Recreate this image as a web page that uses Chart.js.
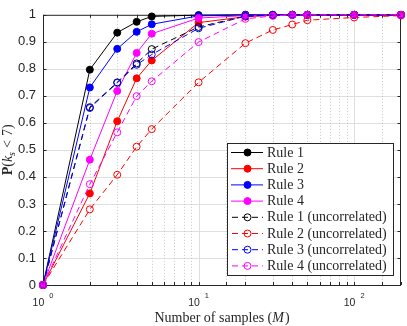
<!DOCTYPE html>
<html>
<head>
<meta charset="utf-8">
<script src="https://cdn.jsdelivr.net/npm/chart.js@4.4.1/dist/chart.umd.min.js"></script>
<style>
  html, body { margin: 0; padding: 0; background: #fff; }
</style>
</head>
<body>
<canvas id="chart" width="407" height="326"></canvas>
<script>
// number of samples M (x axis, log)
const samples = [1, 2, 3, 4, 5, 10, 20, 30, 40, 50, 100, 200];

// P(k_s < 7)
const rule1 = [0, 0.797, 0.934, 0.974, 0.994, 0.999, 1, 1, 1, 1, 1, 1];
const rule2 = [0, 0.339, 0.606, 0.765, 0.831, 0.971, 0.993, 0.998, 1, 1, 1, 1];
const rule3 = [0, 0.731, 0.874, 0.937, 0.965, 0.996, 1, 1, 1, 1, 1, 1];
const rule4 = [0, 0.464, 0.718, 0.859, 0.930, 0.988, 0.997, 1, 1, 1, 1, 1];
const rule1Unc = [0, 0.658, 0.750, 0.820, 0.873, 0.955, 0.995, 0.999, 1, 1, 1, 1];
const rule2Unc = [0, 0.280, 0.408, 0.512, 0.577, 0.750, 0.895, 0.944, 0.964, 0.980, 0.990, 0.997];
const rule3Unc = [0, 0.655, 0.748, 0.815, 0.853, 0.950, 0.995, 0.999, 1, 1, 1, 1];
const rule4Unc = [0, 0.373, 0.565, 0.699, 0.754, 0.899, 0.985, 0.996, 0.999, 1, 1, 1];

const seriesNames = [
  "Rule 1", "Rule 2", "Rule 3", "Rule 4",
  "Rule 1 (uncorrelated)", "Rule 2 (uncorrelated)",
  "Rule 3 (uncorrelated)", "Rule 4 (uncorrelated)",
];
const seriesValues = [rule1, rule2, rule3, rule4, rule1Unc, rule2Unc, rule3Unc, rule4Unc];
const seriesColors = ["#000000", "#ff0000", "#0000ff", "#ff00ff"];

const xLabelPowers = [0, 1, 2];

const AXIS = "#262626";
const SANS = "'Liberation Sans', Arial, sans-serif";
const SERIF = "'Liberation Serif', 'Times New Roman', serif";

const datasets = seriesValues.map((vals, i) => {
  const color = seriesColors[i % 4];
  const dashed = i >= 4;
  return {
    label: seriesNames[i],
    data: samples.map((m, k) => ({ x: m, y: vals[k] })),
    borderColor: color,
    backgroundColor: color,
    borderWidth: 1,
    borderDash: dashed ? [6, 4] : [],
    pointRadius: 3.5,
    pointBorderWidth: 1,
    pointBorderColor: color,
    pointBackgroundColor: dashed ? "rgba(0,0,0,0)" : color,
    tension: 0,
    clip: false,
    order: seriesValues.length - i,
  };
});

function drawMixed(ctx, parts, x, y) {
  // parts: [{text, font, dy, gap}] drawn left to right from x, baseline y
  let cx = x;
  parts.forEach((p) => {
    ctx.font = p.font;
    ctx.fillText(p.text, cx, y + (p.dy || 0));
    cx += ctx.measureText(p.text).width + (p.gap || 0);
  });
  return cx - x;
}

function mixedWidth(ctx, parts) {
  let w = 0;
  parts.forEach((p) => {
    ctx.font = p.font;
    w += ctx.measureText(p.text).width + (p.gap || 0);
  });
  return w;
}

const decor = {
  id: "decor",
  beforeDatasetsDraw(chart) {
    const { ctx, chartArea: a, scales: { x, y } } = chart;
    ctx.save();
    ctx.lineWidth = 1;

    // horizontal grid
    ctx.strokeStyle = "#dfdfdf";
    y.ticks.forEach((t) => {
      if (t.value <= 0.001 || t.value >= 0.999) return;
      const py = Math.round(y.getPixelForValue(t.value)) + 0.5;
      ctx.beginPath();
      ctx.moveTo(a.left, py);
      ctx.lineTo(a.right, py);
      ctx.stroke();
    });

    // vertical grid: solid at decades, dotted at minor ticks
    x.ticks.forEach((t) => {
      if (t.value <= 1 || t.value >= 200) return;
      const major = Math.abs(Math.log10(t.value) % 1) < 1e-9;
      const px = Math.round(x.getPixelForValue(t.value)) + 0.5;
      ctx.strokeStyle = major ? "#dfdfdf" : "#c6c6c6";
      ctx.setLineDash(major ? [] : [1, 2]);
      ctx.beginPath();
      ctx.moveTo(px, a.top);
      ctx.lineTo(px, a.bottom);
      ctx.stroke();
    });
    ctx.setLineDash([]);

    // box and inward ticks
    ctx.strokeStyle = AXIS;
    ctx.strokeRect(a.left + 0.5, a.top + 0.5, a.right - a.left - 1, a.bottom - a.top);
    ctx.beginPath();
    y.ticks.forEach((t) => {
      const py = Math.round(y.getPixelForValue(t.value)) + 0.5;
      ctx.moveTo(a.left, py); ctx.lineTo(a.left + 3.5, py);
      ctx.moveTo(a.right, py); ctx.lineTo(a.right - 3.5, py);
    });
    x.ticks.forEach((t) => {
      const px = Math.round(x.getPixelForValue(t.value)) + 0.5;
      ctx.moveTo(px, a.bottom); ctx.lineTo(px, a.bottom - 3);
      ctx.moveTo(px, a.top); ctx.lineTo(px, a.top + 3);
    });
    ctx.stroke();
    ctx.restore();
  },
  afterDraw(chart) {
    const { ctx, chartArea: a, scales: { x } } = chart;
    ctx.save();
    ctx.fillStyle = AXIS;
    ctx.textBaseline = "alphabetic";
    ctx.textAlign = "left";

    // x tick labels 10^k
    xLabelPowers.forEach((p) => {
      const px = x.getPixelForValue(Math.pow(10, p));
      const parts = [
        { text: "10", font: `10.5px ${SANS}`, gap: 5 },
        { text: String(p), font: `7.5px ${SANS}`, dy: -8 },
      ];
      const w = mixedWidth(ctx, parts);
      drawMixed(ctx, parts, px - w / 2, 305.5);
    });

    // x title
    const xt = [
      { text: "Number of samples (", font: `14px ${SERIF}` },
      { text: "M", font: `italic 14px ${SERIF}`, gap: 1 },
      { text: ")", font: `14px ${SERIF}` },
    ];
    const xw = mixedWidth(ctx, xt);
    drawMixed(ctx, xt, (a.left + a.right) / 2 - xw / 2, 322);

    // y title, rotated
    const yt = [
      { text: "P", font: `bold 14px ${SERIF}` },
      { text: "(", font: `14px ${SERIF}` },
      { text: "k", font: `italic 14px ${SERIF}` },
      { text: "s", font: `italic 10px ${SERIF}`, dy: 3, gap: 4 },
      { text: "<", font: `14px ${SERIF}`, gap: 4 },
      { text: "7)", font: `14px ${SERIF}` },
    ];
    const yw = mixedWidth(ctx, yt);
    ctx.translate(12, (a.top + a.bottom) / 2);
    ctx.rotate(-Math.PI / 2);
    drawMixed(ctx, yt, -yw / 2, 0);
    ctx.setTransform(1, 0, 0, 1, 0, 0);

    // legend box
    const L = { left: 227, top: 143, right: 393, bottom: 275 };
    ctx.fillStyle = "#ffffff";
    ctx.fillRect(L.left, L.top, L.right - L.left, L.bottom - L.top);
    ctx.strokeStyle = AXIS;
    ctx.lineWidth = 1;
    ctx.strokeRect(L.left + 0.5, L.top + 0.5, L.right - L.left, L.bottom - L.top);

    chart.data.datasets.forEach((ds, i) => {
      const cy = 152.5 + i * 16.2;
      ctx.strokeStyle = ds.borderColor;
      ctx.lineWidth = 1;
      ctx.setLineDash(ds.borderDash);
      ctx.lineDashOffset = ds.borderDash.length ? -1 : 0;
      ctx.beginPath();
      ctx.moveTo(231, cy);
      ctx.lineTo(263, cy);
      ctx.stroke();
      ctx.setLineDash([]);
      ctx.beginPath();
      ctx.arc(247.5, cy, 3.5, 0, Math.PI * 2);
      if (ds.pointBackgroundColor !== "rgba(0,0,0,0)") {
        ctx.fillStyle = ds.pointBackgroundColor;
        ctx.fill();
      }
      ctx.stroke();
      ctx.fillStyle = AXIS;
      ctx.font = `14px ${SERIF}`;
      ctx.textBaseline = "middle";
      ctx.fillText(ds.label, 267, cy + 0.5);
    });
    ctx.restore();
  },
};

new Chart(document.getElementById("chart"), {
  type: "line",
  data: { datasets },
  options: {
    responsive: false,
    animation: false,
    devicePixelRatio: 1,
    layout: { padding: { left: 0, right: 6, top: 5, bottom: 0 } },
    plugins: {
      legend: { display: false },
      tooltip: { enabled: false },
    },
    scales: {
      x: {
        type: "logarithmic",
        min: 1,
        max: 200,
        grid: { display: false, drawTicks: false },
        border: { display: false },
        ticks: { display: false },
        afterFit: (s) => { s.height = 41; },
      },
      y: {
        min: 0,
        max: 1,
        grid: { display: false, drawTicks: false },
        border: { display: false },
        ticks: {
          stepSize: 0.1,
          color: AXIS,
          padding: 7,
          font: { family: SANS, size: 13 },
          callback: (v) => String(Math.round(v * 10) / 10),
        },
        afterFit: (s) => { s.width = 43; },
      },
    },
  },
  plugins: [decor],
});
</script>
</body>
</html>
